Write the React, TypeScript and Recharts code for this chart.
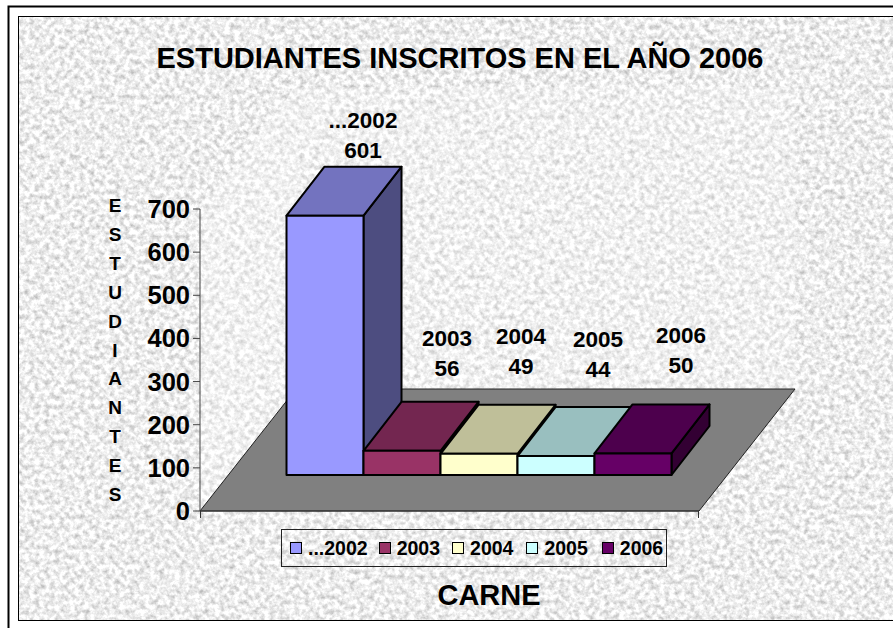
import { BarChart, Bar, XAxis, YAxis, Legend, LabelList } from "recharts";

const categories = ["CARNE"];
const seriesNames = ["...2002", "2003", "2004", "2005", "2006"];
const seriesValues = [601, 56, 49, 44, 50];
const yTicks = [0, 100, 200, 300, 400, 500, 600, 700];
const yTitle = "ESTUDIANTES".split("");

const frontColors = ["#9999ff", "#993366", "#ffffcc", "#ccffff", "#660066"];
const topColors = ["#7373bf", "#732650", "#bfbf99", "#99bfbf", "#4d004d"];
const sideColors = ["#4d4d80", "#4d1a33", "#808066", "#668080", "#330033"];

// labels were dragged by hand in the original, so each one has its own nudge
const labelNudgeX = [38, 45, 42, 42, 48];
const labelNudgeY = [-58, -75, -80, -79, -80];
const legendGaps = [11, 12, 13, 14, 0];

const WIDTH = 893;
const HEIGHT = 628;
const FONT = "'Liberation Sans', Arial, sans-serif";
const PLOT_LEFT = 200;
const PLOT_RIGHT = 699;
const PLOT_TOP = 209;
const PLOT_BOTTOM = 511;
const AXIS_WIDTH = 70;
// depth of the floor and how far the bars sit back on it
const FLOOR_DX = 96;
const FLOOR_DY = 122;
const BAR_SHIFT_X = 28.5;
const BAR_SHIFT_Y = -36;
const BAR_DX = 38;
const BAR_DY = -49;

const data = categories.map((c) => {
  const row: Record<string, string | number> = { name: c };
  seriesNames.forEach((s, i) => {
    row[s] = seriesValues[i];
  });
  return row;
});

function Box3D(props: any, i: number) {
  const { x, y, width, height } = props;
  const l = x + BAR_SHIFT_X;
  const r = l + width;
  const t = y + BAR_SHIFT_Y;
  const b = t + height;
  const pts = (p: number[][]) => p.map((q) => q.join(",")).join(" ");
  const line = { stroke: "#000", strokeWidth: 2, strokeLinejoin: "round" as const };
  return (
    <g>
      <polygon
        points={pts([[r, t], [r + BAR_DX, t + BAR_DY], [r + BAR_DX, b + BAR_DY], [r, b]])}
        fill={sideColors[i]}
        {...line}
      />
      <polygon
        points={pts([[l, t], [l + BAR_DX, t + BAR_DY], [r + BAR_DX, t + BAR_DY], [r, t]])}
        fill={topColors[i]}
        {...line}
      />
      <rect x={l} y={t} width={width} height={height} fill={frontColors[i]} {...line} />
    </g>
  );
}

function BarLabel(props: any, i: number) {
  const { x, y, width, value } = props;
  const cx = x + width / 2 + BAR_SHIFT_X + labelNudgeX[i];
  const top = y + BAR_SHIFT_Y + labelNudgeY[i];
  return (
    <text textAnchor="middle" fontFamily={FONT} fontWeight="bold" fontSize={22.5} fill="#000">
      <tspan x={cx} y={top - 30}>{seriesNames[i]}</tspan>
      <tspan x={cx} y={top}>{value}</tspan>
    </text>
  );
}

function LegendBox(props: any) {
  const { payload } = props;
  return (
    <div
      style={{
        position: "absolute",
        left: 281,
        top: 529,
        width: 386,
        height: 38,
        border: "1px solid #222",
        display: "flex",
        alignItems: "center",
        paddingLeft: 8,
        boxSizing: "border-box",
        fontFamily: FONT,
        fontWeight: "bold",
        fontSize: 19.5,
        color: "#000",
        whiteSpace: "nowrap",
      }}
    >
      {(payload || []).map((p: any, i: number) => (
        <span key={p.value} style={{ display: "flex", alignItems: "center", marginRight: legendGaps[i] }}>
          <span
            style={{
              width: 10,
              height: 10,
              background: frontColors[i],
              border: "1.5px solid #000",
              marginRight: 6,
              boxSizing: "content-box",
            }}
          />
          {p.value}
        </span>
      ))}
    </div>
  );
}

function Paper() {
  return (
    <svg width={WIDTH} height={HEIGHT} style={{ position: "absolute", left: 0, top: 0 }}>
      <defs>
        <filter id="granite" x="0" y="0" width="100%" height="100%" colorInterpolationFilters="sRGB">
          <feTurbulence type="fractalNoise" baseFrequency="0.2" numOctaves={3} seed={7} />
          <feColorMatrix values="0.5 0 0 0 0.68  0.5 0 0 0 0.68  0.5 0 0 0 0.68  0 0 0 0 1" />
        </filter>
      </defs>
      <rect width={WIDTH} height={HEIGHT} fill="#fff" />
      <rect x={18} y={16} width={WIDTH} height={605} filter="url(#granite)" />
      <rect x={18.5} y={16.5} width={WIDTH} height={604} fill="none" stroke="#000" strokeWidth={1} />
      <path d={`M8.5 ${HEIGHT}V6.5H${WIDTH}`} fill="none" stroke="#000" strokeWidth={2} />
    </svg>
  );
}

export default function App() {
  const floor = [
    [PLOT_LEFT, PLOT_BOTTOM],
    [PLOT_RIGHT, PLOT_BOTTOM],
    [PLOT_RIGHT + FLOOR_DX, PLOT_BOTTOM - FLOOR_DY],
    [PLOT_LEFT + FLOOR_DX, PLOT_BOTTOM - FLOOR_DY],
  ];
  const wallTop = PLOT_TOP - FLOOR_DY;
  const backX = PLOT_LEFT + FLOOR_DX;
  const backY = PLOT_BOTTOM - FLOOR_DY;
  return (
    <div style={{ position: "absolute", left: 0, top: 0, width: WIDTH, height: HEIGHT, overflow: "hidden" }}>
      <Paper />
      <div style={{ position: "absolute", left: 0, top: 0 }}>
        <BarChart
          width={WIDTH}
          height={HEIGHT}
          data={data}
          margin={{
            left: PLOT_LEFT - AXIS_WIDTH,
            right: WIDTH - PLOT_RIGHT,
            top: PLOT_TOP,
            bottom: HEIGHT - PLOT_BOTTOM - 1,
          }}
          barCategoryGap={58}
          barGap={0}
        >
          <polygon
            points={`${PLOT_LEFT},${PLOT_BOTTOM} ${PLOT_LEFT},${PLOT_TOP} ${backX},${wallTop} ${backX},${backY}`}
            fill="#fff"
            fillOpacity={0.25}
          />
          <rect
            x={backX}
            y={wallTop}
            width={PLOT_RIGHT - PLOT_LEFT}
            height={backY - wallTop}
            fill="#fff"
            fillOpacity={0.2}
          />
          <polygon
            points={floor.map((p) => p.join(",")).join(" ")}
            fill="#808080"
            stroke="#222"
            strokeWidth={1}
          />
          <XAxis dataKey="name" tick={false} tickLine={false} axisLine={{ stroke: "#333" }} height={1} />
          <YAxis
            domain={[0, 700]}
            ticks={yTicks}
            width={AXIS_WIDTH}
            interval={0}
            tickSize={7}
            tickMargin={3}
            axisLine={{ stroke: "#444" }}
            tickLine={{ stroke: "#444" }}
            tick={{ fill: "#000", fontFamily: FONT, fontWeight: "bold", fontSize: 25.5 }}
          />
          <path
            d={`M${PLOT_LEFT + 0.5} ${PLOT_BOTTOM}v7M${PLOT_RIGHT - 0.5} ${PLOT_BOTTOM}v7`}
            stroke="#333"
            fill="none"
          />
          <Legend content={LegendBox} wrapperStyle={{ position: "static" }} />
          {seriesNames.map((s, i) => (
            <Bar
              key={s}
              dataKey={s}
              name={s}
              fill={frontColors[i]}
              isAnimationActive={false}
              shape={(p: any) => Box3D(p, i)}
            >
              <LabelList dataKey={s} content={(p: any) => BarLabel(p, i)} />
            </Bar>
          ))}
          <text x={460} y={68} textAnchor="middle" fontFamily={FONT} fontWeight="bold" fontSize={29}>
            ESTUDIANTES INSCRITOS EN EL AÑO 2006
          </text>
          <text x={489} y={605} textAnchor="middle" fontFamily={FONT} fontWeight="bold" fontSize={29}>
            {categories[0]}
          </text>
          <text textAnchor="middle" fontFamily={FONT} fontWeight="bold" fontSize={19}>
            {yTitle.map((ch, i) => (
              <tspan key={i} x={115} y={212 + i * 28.9}>
                {ch}
              </tspan>
            ))}
          </text>
        </BarChart>
      </div>
    </div>
  );
}
